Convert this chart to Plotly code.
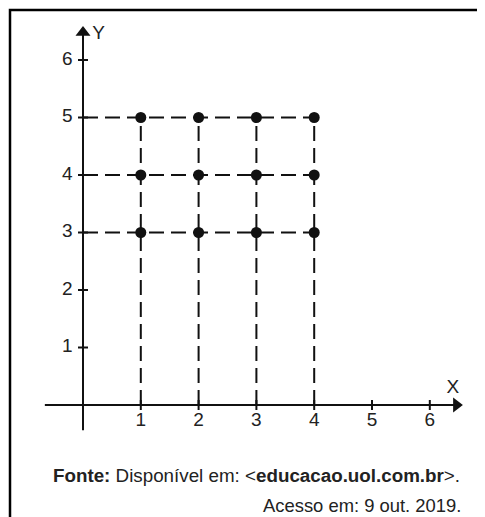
import plotly.graph_objects as go

# ---- data ----
x_ticks = [1, 2, 3, 4, 5, 6]
y_ticks = [1, 2, 3, 4, 5, 6]
point_x = [1, 2, 3, 4]
point_y = [3, 4, 5]
x_label = "X"
y_label = "Y"
source_line1 = "<b>Fonte:</b> Disponível em: &lt;<b>educacao.uol.com.br</b>&gt;."
source_line2 = "Acesso em: 9 out. 2019."

# ---- geometry (page has an 8px body margin) ----
OFF = 8
W, H = 485 - OFF, 517 - OFF
x0_px, unit_x = 83 - OFF, 57.8
y0_px, unit_y = 405 - OFF, 57.5
xr = [-x0_px / unit_x, (W - x0_px) / unit_x]
yr = [(y0_px - H) / unit_y, y0_px / unit_y]

FONT = "Liberation Sans, Arial, sans-serif"
INK = "#111111"

fig = go.Figure()

# dashed guide lines
for yv in point_y:
    fig.add_trace(go.Scatter(x=[0, max(point_x)], y=[yv, yv], mode="lines",
                             line=dict(color=INK, width=2, dash="15px,7px"),
                             hoverinfo="skip", showlegend=False))
for xv in point_x:
    fig.add_trace(go.Scatter(x=[xv, xv], y=[0, max(point_y)], mode="lines",
                             line=dict(color=INK, width=2, dash="15px,7px"),
                             hoverinfo="skip", showlegend=False))

# axes lines
fig.add_trace(go.Scatter(x=[-0.66, 6.50], y=[0, 0], mode="lines",
                         line=dict(color=INK, width=2), showlegend=False, hoverinfo="skip"))
fig.add_trace(go.Scatter(x=[0, 0], y=[-0.44, 6.45], mode="lines",
                         line=dict(color=INK, width=2), showlegend=False, hoverinfo="skip"))
# arrow heads
fig.add_trace(go.Scatter(x=[6.46], y=[0], mode="markers",
                         marker=dict(symbol="triangle-right", size=13, color=INK),
                         showlegend=False, hoverinfo="skip"))
fig.add_trace(go.Scatter(x=[0], y=[6.48], mode="markers",
                         marker=dict(symbol="triangle-up", size=13, color=INK),
                         showlegend=False, hoverinfo="skip"))

# tick marks
tx = 5 / unit_y
for xv in x_ticks:
    fig.add_trace(go.Scatter(x=[xv, xv], y=[-tx, tx], mode="lines",
                             line=dict(color=INK, width=2), showlegend=False, hoverinfo="skip"))
ty = 5 / unit_x
for yv in y_ticks:
    fig.add_trace(go.Scatter(x=[-ty, ty], y=[yv, yv], mode="lines",
                             line=dict(color=INK, width=2), showlegend=False, hoverinfo="skip"))

# tick labels
fig.add_trace(go.Scatter(x=x_ticks, y=[-0.28] * len(x_ticks), mode="text",
                         text=[str(v) for v in x_ticks],
                         textfont=dict(family=FONT, size=19, color="#222"),
                         showlegend=False, hoverinfo="skip"))
fig.add_trace(go.Scatter(x=[-0.27] * len(y_ticks), y=y_ticks, mode="text",
                         text=[str(v) for v in y_ticks],
                         textfont=dict(family=FONT, size=19, color="#222"),
                         showlegend=False, hoverinfo="skip"))
fig.add_trace(go.Scatter(x=[6.40, 0.27], y=[0.30, 6.45], mode="text",
                         text=[x_label, y_label],
                         textfont=dict(family=FONT, size=19, color="#222"),
                         showlegend=False, hoverinfo="skip"))

# points
px, py = [], []
for yv in point_y:
    for xv in point_x:
        px.append(xv)
        py.append(yv)
fig.add_trace(go.Scatter(x=px, y=py, mode="markers",
                         marker=dict(size=11, color=INK),
                         showlegend=False, hoverinfo="skip"))

# frame (clipped at right/bottom like reference)
fig.add_shape(type="rect", xref="paper", yref="paper",
              x0=(10 - OFF) / W, x1=1.05, y0=-0.05, y1=1 - (10 - OFF) / H,
              line=dict(color="black", width=2.5))

fig.add_annotation(text=source_line1, xref="paper", yref="paper",
                   x=(462 - OFF) / W, y=1 - (475 - OFF) / H, xanchor="right", yanchor="middle",
                   showarrow=False, font=dict(family=FONT, size=18.8, color="#222"))
fig.add_annotation(text=source_line2, xref="paper", yref="paper",
                   x=(463 - OFF) / W, y=1 - (505 - OFF) / H, xanchor="right", yanchor="middle",
                   showarrow=False, font=dict(family=FONT, size=18.4, color="#222"))

fig.update_layout(
    width=W, height=H,
    margin=dict(l=0, r=0, t=0, b=0),
    paper_bgcolor="white", plot_bgcolor="white",
    xaxis=dict(range=xr, visible=False, fixedrange=True),
    yaxis=dict(range=yr, visible=False, fixedrange=True),
    showlegend=False,
)

fig.write_html("out.html")
